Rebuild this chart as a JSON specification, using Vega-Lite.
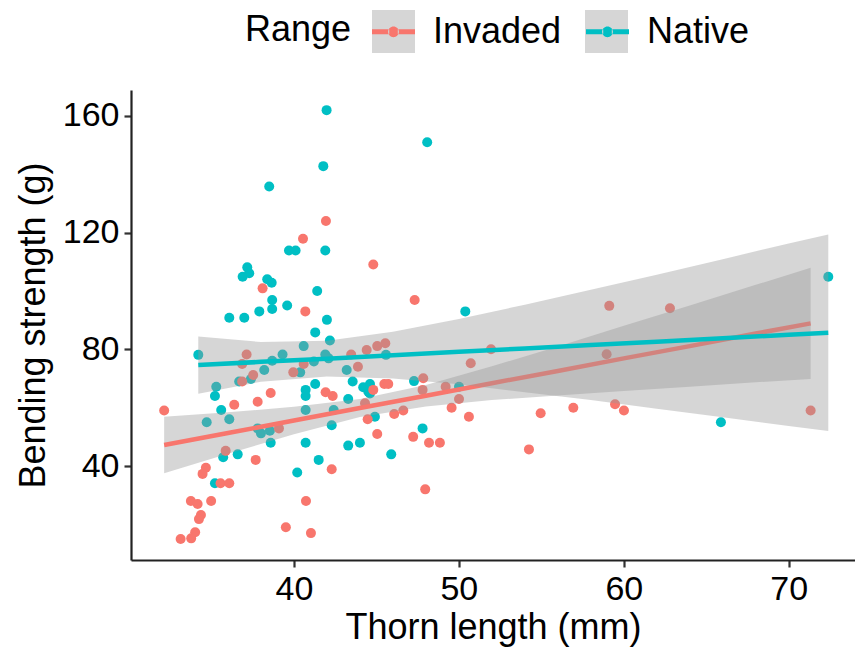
{
  "$schema": "https://vega.github.io/schema/vega-lite/v6.json",
  "width": 724,
  "height": 470,
  "autosize": {"type": "none"},
  "padding": {"left": 131, "top": 90, "right": 0, "bottom": 93},
  "background": "white",
  "config": {
    "view": {"stroke": null},
    "font": "Liberation Sans",
    "axis": {
      "grid": false,
      "domainColor": "#222222",
      "domainWidth": 2.2,
      "tickColor": "#333333",
      "tickWidth": 2.2,
      "tickSize": 7,
      "labelColor": "#000000",
      "labelFontSize": 34,
      "labelFont": "Liberation Sans",
      "titleFont": "Liberation Sans",
      "titleFontSize": 36,
      "titleFontWeight": "normal",
      "titleColor": "#000000",
      "labelPadding": 5
    }
  },
  "datasets": {
    "pts": [
      {"thorn": 41.98, "strength": 162.0, "Range": "Native"},
      {"thorn": 41.78, "strength": 142.8, "Range": "Native"},
      {"thorn": 38.50, "strength": 135.8, "Range": "Native"},
      {"thorn": 39.70, "strength": 113.9, "Range": "Native"},
      {"thorn": 40.10, "strength": 113.9, "Range": "Native"},
      {"thorn": 41.90, "strength": 113.9, "Range": "Native"},
      {"thorn": 37.17, "strength": 108.1, "Range": "Native"},
      {"thorn": 36.89, "strength": 104.9, "Range": "Native"},
      {"thorn": 37.29, "strength": 106.1, "Range": "Native"},
      {"thorn": 38.38, "strength": 104.0, "Range": "Native"},
      {"thorn": 38.65, "strength": 102.8, "Range": "Native"},
      {"thorn": 41.41, "strength": 100.0, "Range": "Native"},
      {"thorn": 38.68, "strength": 96.9, "Range": "Native"},
      {"thorn": 38.68, "strength": 93.8, "Range": "Native"},
      {"thorn": 39.59, "strength": 95.0, "Range": "Native"},
      {"thorn": 37.90, "strength": 93.0, "Range": "Native"},
      {"thorn": 36.08, "strength": 90.8, "Range": "Native"},
      {"thorn": 36.99, "strength": 90.8, "Range": "Native"},
      {"thorn": 42.00, "strength": 90.1, "Range": "Native"},
      {"thorn": 41.29, "strength": 85.8, "Range": "Native"},
      {"thorn": 42.18, "strength": 83.0, "Range": "Native"},
      {"thorn": 34.20, "strength": 78.1, "Range": "Native"},
      {"thorn": 40.59, "strength": 81.1, "Range": "Native"},
      {"thorn": 39.31, "strength": 78.2, "Range": "Native"},
      {"thorn": 38.68, "strength": 76.1, "Range": "Native"},
      {"thorn": 41.90, "strength": 78.2, "Range": "Native"},
      {"thorn": 42.10, "strength": 76.9, "Range": "Native"},
      {"thorn": 41.21, "strength": 75.8, "Range": "Native"},
      {"thorn": 43.20, "strength": 72.9, "Range": "Native"},
      {"thorn": 40.38, "strength": 72.1, "Range": "Native"},
      {"thorn": 38.20, "strength": 72.9, "Range": "Native"},
      {"thorn": 37.39, "strength": 69.8, "Range": "Native"},
      {"thorn": 36.68, "strength": 69.0, "Range": "Native"},
      {"thorn": 41.29, "strength": 68.1, "Range": "Native"},
      {"thorn": 43.56, "strength": 69.0, "Range": "Native"},
      {"thorn": 44.20, "strength": 67.0, "Range": "Native"},
      {"thorn": 44.51, "strength": 65.5, "Range": "Native"},
      {"thorn": 44.61, "strength": 68.1, "Range": "Native"},
      {"thorn": 44.61, "strength": 64.9, "Range": "Native"},
      {"thorn": 35.29, "strength": 67.2, "Range": "Native"},
      {"thorn": 35.21, "strength": 64.0, "Range": "Native"},
      {"thorn": 40.71, "strength": 66.1, "Range": "Native"},
      {"thorn": 40.71, "strength": 64.0, "Range": "Native"},
      {"thorn": 35.59, "strength": 59.2, "Range": "Native"},
      {"thorn": 40.71, "strength": 59.2, "Range": "Native"},
      {"thorn": 42.41, "strength": 59.2, "Range": "Native"},
      {"thorn": 43.29, "strength": 63.0, "Range": "Native"},
      {"thorn": 34.71, "strength": 55.0, "Range": "Native"},
      {"thorn": 36.08, "strength": 56.0, "Range": "Native"},
      {"thorn": 42.29, "strength": 54.0, "Range": "Native"},
      {"thorn": 37.80, "strength": 52.9, "Range": "Native"},
      {"thorn": 38.00, "strength": 51.2, "Range": "Native"},
      {"thorn": 38.54, "strength": 52.1, "Range": "Native"},
      {"thorn": 38.59, "strength": 48.0, "Range": "Native"},
      {"thorn": 40.71, "strength": 48.0, "Range": "Native"},
      {"thorn": 43.29, "strength": 47.0, "Range": "Native"},
      {"thorn": 44.00, "strength": 48.0, "Range": "Native"},
      {"thorn": 35.71, "strength": 43.0, "Range": "Native"},
      {"thorn": 36.59, "strength": 44.0, "Range": "Native"},
      {"thorn": 41.50, "strength": 42.1, "Range": "Native"},
      {"thorn": 40.20, "strength": 37.8, "Range": "Native"},
      {"thorn": 35.21, "strength": 34.1, "Range": "Native"},
      {"thorn": 48.08, "strength": 151.0, "Range": "Native"},
      {"thorn": 50.39, "strength": 93.0, "Range": "Native"},
      {"thorn": 45.58, "strength": 78.1, "Range": "Native"},
      {"thorn": 47.28, "strength": 69.1, "Range": "Native"},
      {"thorn": 50.01, "strength": 67.2, "Range": "Native"},
      {"thorn": 44.91, "strength": 56.9, "Range": "Native"},
      {"thorn": 47.80, "strength": 52.9, "Range": "Native"},
      {"thorn": 45.90, "strength": 44.0, "Range": "Native"},
      {"thorn": 72.40, "strength": 104.9, "Range": "Native"},
      {"thorn": 65.89, "strength": 55.0, "Range": "Native"},
      {"thorn": 41.94, "strength": 124.0, "Range": "Invaded"},
      {"thorn": 40.55, "strength": 117.9, "Range": "Invaded"},
      {"thorn": 44.81, "strength": 109.1, "Range": "Invaded"},
      {"thorn": 38.10, "strength": 100.9, "Range": "Invaded"},
      {"thorn": 40.69, "strength": 93.0, "Range": "Invaded"},
      {"thorn": 47.32, "strength": 96.9, "Range": "Invaded"},
      {"thorn": 37.13, "strength": 78.2, "Range": "Invaded"},
      {"thorn": 36.86, "strength": 75.0, "Range": "Invaded"},
      {"thorn": 40.59, "strength": 75.0, "Range": "Invaded"},
      {"thorn": 43.47, "strength": 78.2, "Range": "Invaded"},
      {"thorn": 44.41, "strength": 79.8, "Range": "Invaded"},
      {"thorn": 45.05, "strength": 81.1, "Range": "Invaded"},
      {"thorn": 45.54, "strength": 82.1, "Range": "Invaded"},
      {"thorn": 43.88, "strength": 74.0, "Range": "Invaded"},
      {"thorn": 39.96, "strength": 72.1, "Range": "Invaded"},
      {"thorn": 37.53, "strength": 71.2, "Range": "Invaded"},
      {"thorn": 36.86, "strength": 69.0, "Range": "Invaded"},
      {"thorn": 38.59, "strength": 65.0, "Range": "Invaded"},
      {"thorn": 41.92, "strength": 65.3, "Range": "Invaded"},
      {"thorn": 42.35, "strength": 64.0, "Range": "Invaded"},
      {"thorn": 37.80, "strength": 62.0, "Range": "Invaded"},
      {"thorn": 36.38, "strength": 61.0, "Range": "Invaded"},
      {"thorn": 32.13, "strength": 59.0, "Range": "Invaded"},
      {"thorn": 44.31, "strength": 61.5, "Range": "Invaded"},
      {"thorn": 44.47, "strength": 56.0, "Range": "Invaded"},
      {"thorn": 39.09, "strength": 52.9, "Range": "Invaded"},
      {"thorn": 35.86, "strength": 45.2, "Range": "Invaded"},
      {"thorn": 37.68, "strength": 42.1, "Range": "Invaded"},
      {"thorn": 42.29, "strength": 38.9, "Range": "Invaded"},
      {"thorn": 34.66, "strength": 39.4, "Range": "Invaded"},
      {"thorn": 34.46, "strength": 37.3, "Range": "Invaded"},
      {"thorn": 35.55, "strength": 34.1, "Range": "Invaded"},
      {"thorn": 36.08, "strength": 34.1, "Range": "Invaded"},
      {"thorn": 33.75, "strength": 28.0, "Range": "Invaded"},
      {"thorn": 34.16, "strength": 27.0, "Range": "Invaded"},
      {"thorn": 34.98, "strength": 28.0, "Range": "Invaded"},
      {"thorn": 40.73, "strength": 28.0, "Range": "Invaded"},
      {"thorn": 34.36, "strength": 23.2, "Range": "Invaded"},
      {"thorn": 34.24, "strength": 21.8, "Range": "Invaded"},
      {"thorn": 34.01, "strength": 17.3, "Range": "Invaded"},
      {"thorn": 33.77, "strength": 15.2, "Range": "Invaded"},
      {"thorn": 33.13, "strength": 15.0, "Range": "Invaded"},
      {"thorn": 39.51, "strength": 19.0, "Range": "Invaded"},
      {"thorn": 41.03, "strength": 17.0, "Range": "Invaded"},
      {"thorn": 51.95, "strength": 80.0, "Range": "Invaded"},
      {"thorn": 50.72, "strength": 75.2, "Range": "Invaded"},
      {"thorn": 44.81, "strength": 66.1, "Range": "Invaded"},
      {"thorn": 45.48, "strength": 68.1, "Range": "Invaded"},
      {"thorn": 45.72, "strength": 68.1, "Range": "Invaded"},
      {"thorn": 47.84, "strength": 70.1, "Range": "Invaded"},
      {"thorn": 47.80, "strength": 66.1, "Range": "Invaded"},
      {"thorn": 49.20, "strength": 67.2, "Range": "Invaded"},
      {"thorn": 50.01, "strength": 63.0, "Range": "Invaded"},
      {"thorn": 49.56, "strength": 60.0, "Range": "Invaded"},
      {"thorn": 50.61, "strength": 56.9, "Range": "Invaded"},
      {"thorn": 46.08, "strength": 57.8, "Range": "Invaded"},
      {"thorn": 46.63, "strength": 59.0, "Range": "Invaded"},
      {"thorn": 45.05, "strength": 51.0, "Range": "Invaded"},
      {"thorn": 47.23, "strength": 50.0, "Range": "Invaded"},
      {"thorn": 48.19, "strength": 48.0, "Range": "Invaded"},
      {"thorn": 48.85, "strength": 48.0, "Range": "Invaded"},
      {"thorn": 47.96, "strength": 32.0, "Range": "Invaded"},
      {"thorn": 59.12, "strength": 94.9, "Range": "Invaded"},
      {"thorn": 62.80, "strength": 94.1, "Range": "Invaded"},
      {"thorn": 58.96, "strength": 78.3, "Range": "Invaded"},
      {"thorn": 54.96, "strength": 58.1, "Range": "Invaded"},
      {"thorn": 56.94, "strength": 60.0, "Range": "Invaded"},
      {"thorn": 59.47, "strength": 61.2, "Range": "Invaded"},
      {"thorn": 60.01, "strength": 59.0, "Range": "Invaded"},
      {"thorn": 71.33, "strength": 59.0, "Range": "Invaded"},
      {"thorn": 54.25, "strength": 45.7, "Range": "Invaded"}
    ],
    "fit": [
      {"thorn": 32.13, "fit": 47.2, "lo": 37.5, "hi": 56.9, "Range": "Invaded", "Band": "Invaded"},
      {"thorn": 36, "fit": 51.3, "lo": 44.2, "hi": 58.4, "Range": "Invaded", "Band": "Invaded"},
      {"thorn": 40, "fit": 55.6, "lo": 50.9, "hi": 60.3, "Range": "Invaded", "Band": "Invaded"},
      {"thorn": 44, "fit": 59.9, "lo": 56.8, "hi": 63.0, "Range": "Invaded", "Band": "Invaded"},
      {"thorn": 48, "fit": 64.1, "lo": 60.4, "hi": 67.8, "Range": "Invaded", "Band": "Invaded"},
      {"thorn": 52, "fit": 68.4, "lo": 62.6, "hi": 74.2, "Range": "Invaded", "Band": "Invaded"},
      {"thorn": 56, "fit": 72.6, "lo": 64.2, "hi": 81.0, "Range": "Invaded", "Band": "Invaded"},
      {"thorn": 60, "fit": 76.9, "lo": 65.7, "hi": 88.1, "Range": "Invaded", "Band": "Invaded"},
      {"thorn": 64, "fit": 81.1, "lo": 67.2, "hi": 95.0, "Range": "Invaded", "Band": "Invaded"},
      {"thorn": 68, "fit": 85.4, "lo": 68.7, "hi": 102.1, "Range": "Invaded", "Band": "Invaded"},
      {"thorn": 71.33, "fit": 88.9, "lo": 69.8, "hi": 108.0, "Range": "Invaded", "Band": "Invaded"},
      {"thorn": 34.2, "fit": 74.6, "lo": 64.8, "hi": 84.4, "Range": "Native", "Band": "Native"},
      {"thorn": 38, "fit": 75.7, "lo": 68.9, "hi": 82.5, "Range": "Native", "Band": "Native"},
      {"thorn": 42, "fit": 76.8, "lo": 70.7, "hi": 82.9, "Range": "Native", "Band": "Native"},
      {"thorn": 46, "fit": 78.0, "lo": 70.0, "hi": 86.0, "Range": "Native", "Band": "Native"},
      {"thorn": 50, "fit": 79.2, "lo": 68.0, "hi": 90.4, "Range": "Native", "Band": "Native"},
      {"thorn": 54, "fit": 80.3, "lo": 65.3, "hi": 95.3, "Range": "Native", "Band": "Native"},
      {"thorn": 58, "fit": 81.5, "lo": 62.6, "hi": 100.4, "Range": "Native", "Band": "Native"},
      {"thorn": 62, "fit": 82.6, "lo": 59.6, "hi": 105.6, "Range": "Native", "Band": "Native"},
      {"thorn": 66, "fit": 83.8, "lo": 56.7, "hi": 110.9, "Range": "Native", "Band": "Native"},
      {"thorn": 70, "fit": 85.0, "lo": 53.7, "hi": 116.3, "Range": "Native", "Band": "Native"},
      {"thorn": 72.4, "fit": 85.7, "lo": 52.0, "hi": 119.4, "Range": "Native", "Band": "Native"}
    ]
  },
  "layer": [
    {
      "data": {"name": "pts"},
      "mark": {"type": "circle", "size": 100, "opacity": 1},
      "encoding": {
        "x": {
          "field": "thorn", "type": "quantitative",
          "scale": {"domain": [30.12, 74.02], "nice": false, "zero": false},
          "axis": {"values": [40, 50, 60, 70], "title": "Thorn length (mm)", "titlePadding": 4}
        },
        "y": {
          "field": "strength", "type": "quantitative",
          "scale": {"domain": [7.78, 168.9], "nice": false, "zero": false},
          "axis": {"values": [40, 80, 120, 160], "title": "Bending strength (g)", "titlePadding": 10}
        },
        "color": {
          "field": "Range", "type": "nominal",
          "scale": {"domain": ["Invaded", "Native"], "range": ["#F8766D", "#00BFC4"]},
          "legend": {
            "orient": "none",
            "legendX": 114,
            "legendY": -80,
            "direction": "horizontal",
            "title": "Range",
            "titleOrient": "left",
            "titleFontSize": 36,
            "titleFontWeight": "normal",
            "titleColor": "#000000",
            "titlePadding": 20,
            "labelFontSize": 36,
            "labelColor": "#000000",
            "labelOffset": 18,
            "columnPadding": 24,
            "symbolType": "M-1,-0.12H-0.2V0.12H-1Z M0.2,-0.12H1V0.12H0.2Z M-0.25,0A0.25,0.25 0 1,0 0.25,0A0.25,0.25 0 1,0 -0.25,0Z",
            "symbolSize": 1849,
            "symbolStrokeWidth": 0,
            "symbolOpacity": 1,
            "zindex": 2
          }
        }
      }
    },
    {
      "data": {"name": "fit"},
      "transform": [{"filter": "datum.Range === 'Invaded'"}],
      "mark": {"type": "area", "opacity": 0.4},
      "encoding": {
        "x": {"field": "thorn", "type": "quantitative"},
        "y": {"field": "lo", "type": "quantitative"},
        "y2": {"field": "hi"},
        "fill": {
          "field": "Band", "type": "nominal",
          "scale": {"range": ["#999999", "#999999"]},
          "legend": {
            "orient": "none",
            "legendX": 241,
            "legendY": -80,
            "direction": "horizontal",
            "title": null,
            "labelExpr": "''",
            "labelFontSize": 36,
            "labelOffset": 18,
            "columnPadding": 152,
            "symbolType": "square",
            "symbolSize": 1849,
            "symbolStrokeWidth": 0,
            "symbolOpacity": 0.45,
            "zindex": 1
          }
        }
      }
    },
    {
      "data": {"name": "fit"},
      "transform": [{"filter": "datum.Range === 'Invaded'"}],
      "mark": {"type": "line", "strokeWidth": 4.5},
      "encoding": {
        "x": {"field": "thorn", "type": "quantitative"},
        "y": {"field": "fit", "type": "quantitative"},
        "color": {"field": "Range", "type": "nominal", "legend": null}
      }
    },
    {
      "data": {"name": "fit"},
      "transform": [{"filter": "datum.Range === 'Native'"}],
      "mark": {"type": "area", "opacity": 0.4},
      "encoding": {
        "x": {"field": "thorn", "type": "quantitative"},
        "y": {"field": "lo", "type": "quantitative"},
        "y2": {"field": "hi"},
        "fill": {"field": "Band", "type": "nominal"}
      }
    },
    {
      "data": {"name": "fit"},
      "transform": [{"filter": "datum.Range === 'Native'"}],
      "mark": {"type": "line", "strokeWidth": 4.5},
      "encoding": {
        "x": {"field": "thorn", "type": "quantitative"},
        "y": {"field": "fit", "type": "quantitative"},
        "color": {"field": "Range", "type": "nominal", "legend": null}
      }
    }
  ]
}
